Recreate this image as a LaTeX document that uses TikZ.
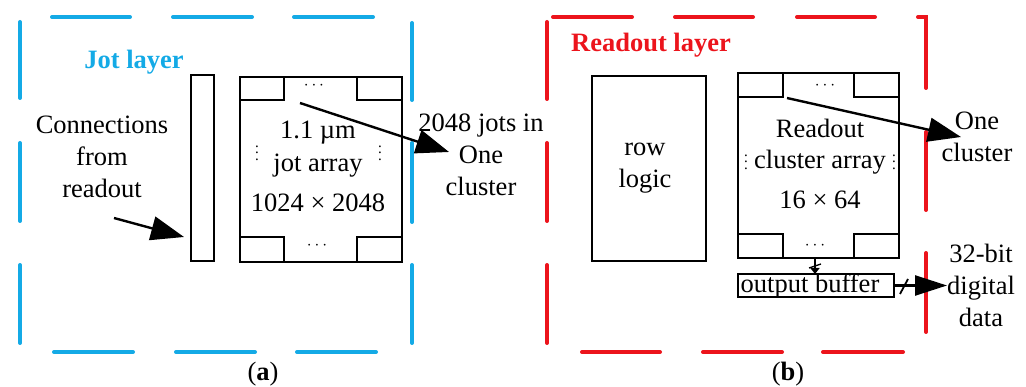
\documentclass[tikz,border=0pt]{standalone}
\usepackage{fontspec}
\setmainfont{Liberation Serif}
\usetikzlibrary{arrows.meta}
\definecolor{jotblue}{RGB}{20,170,230}
\definecolor{rored}{RGB}{236,20,28}
\tikzset{
  blk/.style={draw=black, line width=2.4pt, inner sep=0pt},
  dsh/.style={line width=4pt, line cap=round},
  txt/.style={font=\fontsize{26.5}{32}\selectfont, align=center, inner sep=0pt},
  ttl/.style={font=\fontsize{26.5}{32}\selectfont\bfseries, inner sep=0pt},
  dts/.style={font=\fontsize{16}{16}\selectfont, inner sep=0pt},
  vdt/.style={font=\fontsize{15}{6.5}\selectfont, align=center, inner sep=0pt},
  bigarr/.style={line width=2.4pt, -{Triangle[length=33pt,width=24pt]}},
}
\begin{document}
\begin{tikzpicture}[x=1pt,y=-1pt]
\useasboundingbox (0,0) rectangle (1026,387);
% ---- blue dashed frame (a)
\begin{scope}[dsh, draw=jotblue]
\draw (52,17) -- (130,17); \draw (173,17) -- (252,17); \draw (294,17) -- (373,17);
\draw (54,352) -- (133,352); \draw (176,352) -- (255,352); \draw (297,352) -- (376,352);
\draw (20,22) -- (20,98); \draw (20,143) -- (20,221); \draw (20,265) -- (20,343);
\draw (412,23) -- (412,100); \draw (412,143) -- (412,222); \draw (412,265) -- (412,343);
\end{scope}
% ---- red dashed frame (b)
\begin{scope}[dsh, draw=rored]
\draw (553,17) -- (632,17); \draw (675,17) -- (753,17); \draw (797,17) -- (875,17);
\draw (918,17) -- (926,17) -- (926,88);
\draw (582,352) -- (660,352); \draw (703,352) -- (782,352); \draw (823,352) -- (903,352);
\draw (547,22) -- (547,99); \draw (547,143) -- (547,221); \draw (547,265) -- (547,343);
\draw (926,132) -- (926,210); \draw (926,253) -- (926,332);
\end{scope}
% ---- panel (a)
\node[ttl, text=jotblue] (jtitle) at (134,62) {Jot layer};
\node[blk, minimum width=23pt, minimum height=186pt] (thin) at (202.5,168) {};
\node[blk, minimum width=162pt, minimum height=185pt] (ja) at (321,169.5) {};
\node[blk, anchor=north west, minimum width=44pt, minimum height=23pt] (jtl) at (ja.north west) {};
\node[blk, anchor=north east, minimum width=45pt, minimum height=23pt] (jtr) at (ja.north east) {};
\node[blk, anchor=south west, minimum width=44pt, minimum height=25pt] (jbl) at (ja.south west) {};
\node[blk, anchor=south east, minimum width=45pt, minimum height=25pt] (jbr) at (ja.south east) {};
\node[dts] (jdt) at (314,86) {$\cdots$};
\node[dts] (jdb) at (317,246) {$\cdots$};
\node[txt] (jl1) at (318,133) {1.1 µm};
\node[txt] (jl2) at (318,166) {jot array};
\node[txt] (jl3) at (318,203) {1024 × 2048};
\node[vdt] (jvl) at (257,153) {.\\.\\.};
\node[vdt] (jvr) at (380,153) {.\\.\\.};
\node[txt] (conn) at (102,157) {Connections\\from\\readout};
\node[txt] (jots) at (481,155) {2048 jots in\\One\\cluster};
\coordinate (c1s) at (114,218);
\coordinate (c1e) at (184,237);
\draw[bigarr] (c1s) -- (c1e);
\coordinate (c2s) at (300,103);
\coordinate (c2e) at (449,152);
\draw[bigarr] (c2s) -- (c2e);
\node[txt] (capa) at (263,374) {(\textbf{a})};
% ---- panel (b)
\node[ttl, text=rored] (rtitle) at (651,45) {Readout layer};
\node[blk, minimum width=114pt, minimum height=185pt] (row) at (649,168.5) {};
\node[txt] (rowt) at (645,168) {row\\logic};
\node[blk, minimum width=161pt, minimum height=185pt] (ra) at (818.5,165.5) {};
\node[blk, anchor=north west, minimum width=45pt, minimum height=24pt] (rtl) at (ra.north west) {};
\node[blk, anchor=north east, minimum width=45pt, minimum height=24pt] (rtr) at (ra.north east) {};
\node[blk, anchor=south west, minimum width=45pt, minimum height=24pt] (rbl) at (ra.south west) {};
\node[blk, anchor=south east, minimum width=45pt, minimum height=24pt] (rbr) at (ra.south east) {};
\node[dts] (rdt) at (825,86) {$\cdots$};
\node[dts] (rdb) at (815,246) {$\cdots$};
\node[txt] (rl1) at (820,128) {Readout};
\node[txt] (rl2) at (820,162) {cluster array};
\node[txt] (rl3) at (820,200) {16 × 64};
\node[vdt] (rvl) at (746,162) {.\\.\\.};
\node[vdt] (rvr) at (894,162) {.\\.\\.};
\node[blk, minimum width=156pt, minimum height=23pt] (ob) at (816,285.5) {};
\node[txt] (obt) at (810,286) {output buffer};
\node[txt] (onec) at (977,137) {One\\cluster};
\node[txt] (dig) at (981,285) {32-bit\\digital\\data};
\coordinate (r1s) at (787,98);
\coordinate (r1e) at (961,137);
\draw[bigarr] (r1s) -- (r1e);
\coordinate (bs) at (815,259);
\coordinate (be) at (815,274);
\draw[line width=1.6pt, -{Triangle[length=6pt,width=9pt]}] (bs) -- (be);
\draw[line width=1.4pt] (809,268) -- (821,264);
\coordinate (os) at (ob.east);
\coordinate (oe) at (947,285.5);
\draw[line width=2.4pt, -{Triangle[length=32pt,width=20pt]}] (os) -- (oe);
\draw[line width=1.8pt] (900,294) -- (908,279);
\node[txt] (capb) at (788,374) {(\textbf{b})};
\end{tikzpicture}
\end{document}
